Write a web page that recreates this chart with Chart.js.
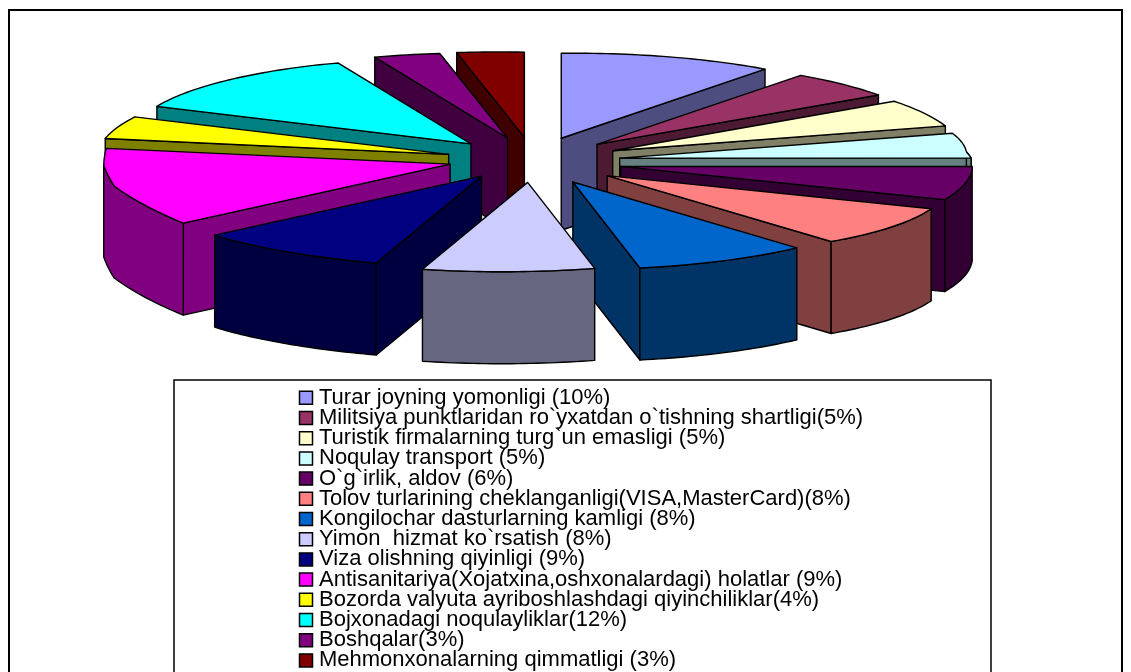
<!DOCTYPE html>
<html>
<head>
<meta charset="utf-8">
<title>Pie</title>
<style>
  html, body { margin: 0; padding: 0; background: #fff; overflow: hidden; }
  canvas { display: block; }
</style>
<script src="https://cdn.jsdelivr.net/npm/chart.js@4/dist/chart.umd.js"></script>
</head>
<body>
<canvas id="chart" width="1131" height="672"></canvas>
<script>
// ── Data ──────────────────────────────────────────────────────────────────────
const categories = [
  'Turar joyning yomonligi (10%)',
  'Militsiya punktlaridan ro`yxatdan o`tishning shartligi(5%)',
  'Turistik firmalarning turg`un emasligi (5%)',
  'Noqulay transport (5%)',
  'O`g`irlik, aldov (6%)',
  'Tolov turlarining cheklanganligi(VISA,MasterCard)(8%)',
  'Kongilochar dasturlarning kamligi (8%)',
  'Yimon  hizmat ko`rsatish (8%)',
  'Viza olishning qiyinligi (9%)',
  'Antisanitariya(Xojatxina,oshxonalardagi) holatlar (9%)',
  'Bozorda valyuta ayriboshlashdagi qiyinchiliklar(4%)',
  'Bojxonadagi noqulayliklar(12%)',
  'Boshqalar(3%)',
  'Mehmonxonalarning qimmatligi (3%)',
]
const values = [10, 5, 5, 5, 6, 8, 8, 8, 9, 9, 4, 12, 3, 3]
const colors = [
  '#9999ff', '#993366', '#ffffcc', '#ccffff', '#660066', '#ff8080', '#0066cc',
  '#ccccff', '#000080', '#ff00ff', '#ffff00', '#00ffff', '#800080', '#800000',
]

// ── Layout of the tilted pie ──────────────────────────────────────────────────
const CENTER    = { x: 533, y: 160 }
const RADIUS    = { x: 335, y: 85 }
const EXPLODE   = { x: 87, y: 23 }
const DEPTH     = 92
const RIM_SHEAR = 56   // the front of the pie leans to the right
const TIP_SHEAR = 15

// the old 3D renderer's perspective is not a clean ellipse: [degrees, dx, dy]
const RIM_WARP = [
  [0, 0, 0], [38, -2, -2], [57, 1, -3], [76, 8, -4], [95, 13, -7], [117, 1, -6],
  [148, -2, -6], [178, 0, 1], [208, 5, 12], [242, 5, 20], [262, -12, 10],
  [276, -11, -6], [291, -3, -6], [332, -4, -3], [360, 0, 0],
]

const FRAME  = { left: 9, top: 10, right: 1122 }
const LEGEND = { left: 174, top: 380, right: 991, textTop: 388.6, boxLeft: 305.8 }

// ── Helpers ───────────────────────────────────────────────────────────────────
function darken(hex) {
  const n = parseInt(hex.slice(1), 16)
  const half = c => Math.round(c / 2)
  return `rgb(${half(n >> 16)},${half((n >> 8) & 255)},${half(n & 255)})`
}

function tipOf(mid) {
  return {
    x: CENTER.x + EXPLODE.x * Math.sin(mid) + TIP_SHEAR * Math.max(0, -Math.cos(mid)),
    y: CENTER.y - EXPLODE.y * Math.cos(mid),
  }
}

function warpAt(a) {
  const deg = a * 180 / Math.PI
  for (let i = 1; i < RIM_WARP.length; i++) {
    const [d0, x0, y0] = RIM_WARP[i - 1]
    const [d1, x1, y1] = RIM_WARP[i]
    if (deg <= d1) {
      const t = (deg - d0) / (d1 - d0)
      return { x: x0 + (x1 - x0) * t, y: y0 + (y1 - y0) * t }
    }
  }
  return { x: 0, y: 0 }
}

function rimPoint(tip, a) {
  const warp = warpAt(a)
  return {
    x: tip.x + RADIUS.x * Math.sin(a) + RIM_SHEAR * Math.max(0, -Math.cos(a)) + warp.x,
    y: tip.y - RADIUS.y * Math.cos(a) + warp.y,
  }
}

function rimPoints(tip, from, to) {
  const steps = Math.max(2, Math.ceil((to - from) / 0.02))
  const pts = []
  for (let i = 0; i <= steps; i++) pts.push(rimPoint(tip, from + (to - from) * i / steps))
  return pts
}

function face(ctx, pts, fill) {
  ctx.beginPath()
  pts.forEach((p, i) => i ? ctx.lineTo(p.x, p.y) : ctx.moveTo(p.x, p.y))
  ctx.closePath()
  ctx.fillStyle = fill
  ctx.fill()
  ctx.stroke()
}

const down = p => ({ x: p.x, y: p.y + DEPTH })

// ── One exploded slice: visible walls first, lid last ─────────────────────────
function drawSlice(ctx, arc) {
  // chart.js angles start at 3 o'clock, the pie is laid out from 12 o'clock
  const start = arc.startAngle + Math.PI / 2
  const end   = arc.endAngle + Math.PI / 2
  const tip   = tipOf((start + end) / 2)
  const top   = arc.options.backgroundColor
  const side  = darken(top)

  if (Math.sin(start) < 0) {
    const p = rimPoint(tip, start)
    face(ctx, [tip, p, down(p), down(tip)], side)
  }
  if (Math.sin(end) > 0) {
    const p = rimPoint(tip, end)
    face(ctx, [tip, p, down(p), down(tip)], side)
  }

  const from = Math.max(start, Math.PI / 2)
  const to   = Math.min(end, Math.PI * 1.5)
  if (to > from) {
    const rim = rimPoints(tip, from, to)
    face(ctx, [...rim, ...rim.slice().reverse().map(down)], side)
  }

  face(ctx, [tip, ...rimPoints(tip, start, end)], top)
}

// ── Plugin: frames behind everything, 3D pie in place of the flat one ─────────
const tiltedPie = {
  id: 'tiltedPie',
  beforeDraw(chart) {
    const { ctx, legend } = chart
    const bottom = chart.height + 5
    ctx.save()
    ctx.strokeStyle = '#000'
    ctx.lineWidth = 2
    ctx.strokeRect(FRAME.left, FRAME.top, FRAME.right - FRAME.left, bottom - FRAME.top)
    ctx.lineWidth = 1.5
    ctx.strokeRect(LEGEND.left, LEGEND.top, LEGEND.right - LEGEND.left, bottom - LEGEND.top)
    ctx.restore()

    // move the legend under the pie; its own clip would cut the squares in half
    legend.left = LEGEND.boxLeft
    legend.top = LEGEND.textTop
    legend.draw = () => legend._draw()
  },
  beforeDatasetsDraw(chart) {
    const { ctx } = chart
    const arcs = chart.getDatasetMeta(0).data.slice()
    const depthOf = arc => Math.cos((arc.startAngle + arc.endAngle) / 2 + Math.PI / 2)
    arcs.sort((a, b) => depthOf(b) - depthOf(a))

    ctx.save()
    ctx.strokeStyle = '#000'
    ctx.lineWidth = 1.4
    ctx.lineJoin = 'round'
    arcs.forEach(arc => drawSlice(ctx, arc))
    ctx.restore()
    return false
  },
}

// ── Chart ─────────────────────────────────────────────────────────────────────
new Chart(document.getElementById('chart'), {
  type: 'pie',
  data: {
    labels: categories,
    datasets: [{
      data: values,
      backgroundColor: colors,
      borderColor: '#000',
      borderWidth: 1.5,
    }],
  },
  options: {
    responsive: false,
    animation: false,
    devicePixelRatio: 1,
    plugins: {
      tooltip: { enabled: false },
      legend: {
        display: true,
        position: 'left',
        align: 'start',
        labels: {
          color: '#000',
          usePointStyle: true,
          pointStyle: 'rect',
          boxWidth: 4,    // keeps the text close; the square itself is boxHeight wide
          boxHeight: 13,
          padding: -1.8,  // lines overlap slightly in the original
          font: { family: '"Liberation Sans", Arial, sans-serif', size: 22 },
        },
      },
    },
  },
  plugins: [tiltedPie],
})
</script>
</body>
</html>
